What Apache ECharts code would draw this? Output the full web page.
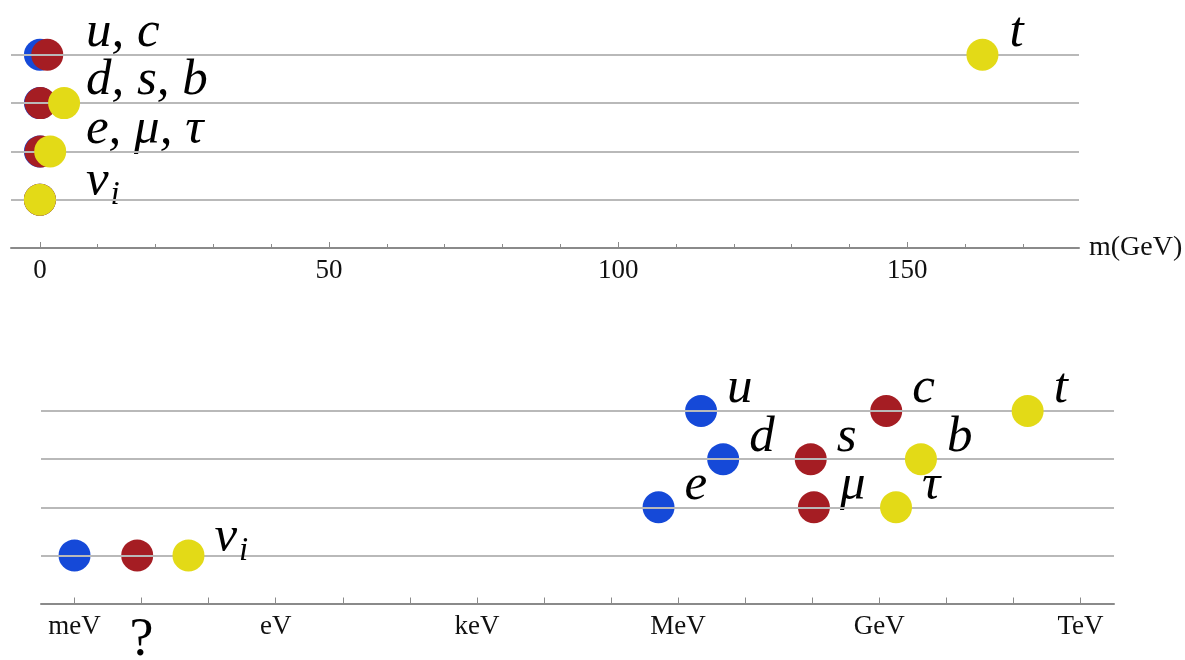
<!DOCTYPE html>
<html><head><meta charset="utf-8">
<script src="https://cdn.jsdelivr.net/npm/echarts@6/dist/echarts.min.js"></script>
<style>html,body{margin:0;padding:0;background:#fff}#c{width:1185px;height:660px}</style>
</head><body><div id="c"></div>
<script>
// rows: 4 = up-type quarks, 3 = down-type quarks, 2 = charged leptons, 1 = neutrinos
const rows = [4, 3, 2, 1];
const rowLabelsTop = ['u, c', 'd, s, b', 'e, μ, τ', 'nu'];
// masses in GeV, per generation, in row order
const gen1Mass = [0.0022, 0.0047, 0.000511, 1e-12];
const gen2Mass = [1.27, 0.095, 0.106, 8.6e-12];
const gen3Mass = [163, 4.18, 1.777, 5e-11];
const gen1Names = ['u', 'd', 'e', ''];
const gen2Names = ['c', 's', 'μ', ''];
const gen3Names = ['t', 'b', 'τ', 'nu'];
const genColors = ['#1549d8', '#a51d23', '#e3da17'];
// top (linear GeV) axis ticks
const linearMajorTicks = [0, 50, 100, 150];
const linearMinorTicks = [10, 20, 30, 40, 60, 70, 80, 90, 110, 120, 130, 140, 160, 170];
// bottom (log eV) axis ticks and labels
const logTicksEV = [1e-3, 1e-2, 1e-1, 1, 1e1, 1e2, 1e3, 1e4, 1e5, 1e6, 1e7, 1e8, 1e9, 1e10, 1e11, 1e12];
const logLabelValues = [1e-3, 1e-2, 1, 1e3, 1e6, 1e9, 1e12];
const logLabelTexts = ['meV', '?', 'eV', 'keV', 'MeV', 'GeV', 'TeV'];

const SERIF = '"Liberation Serif", "Times New Roman", serif';
const mathRich = {
  m: { fontFamily: SERIF, fontStyle: 'italic', fontSize: 51, color: '#000', lineHeight: 51 },
  s: { fontFamily: SERIF, fontStyle: 'italic', fontSize: 33, color: '#000', lineHeight: 33, padding: [28, 0, 0, 2] }
};
function mathText(t) {
  if (t === 'nu') return '{m|ν}{s|i}';
  return '{m|' + t + '}';
}

const masses = [gen1Mass, gen2Mass, gen3Mass];
const names = [gen1Names, gen2Names, gen3Names];

const series = [];
// top chart
masses.forEach((arr, g) => {
  series.push({
    type: 'scatter', xAxisIndex: 0, yAxisIndex: 0,
    symbol: 'circle', symbolSize: 32,
    itemStyle: { color: genColors[g], opacity: 1 },
    data: arr.map((m, i) => {
      const item = { value: [m, rows[i]] };
      const off = rowLabelsTop[i] === 'nu' ? -18 : -22;
      if (g === 0) item.label = { show: true, formatter: mathText(rowLabelsTop[i]), position: 'right', distance: 30, offset: [0, off], rich: mathRich };
      if (g === 2 && i === 0) item.label = { show: true, formatter: mathText(names[g][i]), position: 'right', distance: 11, offset: [0, -22], rich: mathRich };
      return item;
    }),
    markLine: g === 0 ? {
      silent: true, symbol: 'none', label: { show: false },
      lineStyle: { color: '#b9b9b9', width: 2, type: 'solid' },
      data: rows.map(r => ({ yAxis: r }))
    } : undefined,
    z: 3 + g
  });
});
// bottom chart
masses.forEach((arr, g) => {
  series.push({
    type: 'scatter', xAxisIndex: 2, yAxisIndex: 1,
    symbol: 'circle', symbolSize: 32,
    itemStyle: { color: genColors[g], opacity: 1 },
    label: { show: true, position: 'right', distance: 10, rich: mathRich,
      formatter: p => names[g][p.dataIndex] ? mathText(names[g][p.dataIndex]) : '' },
    data: arr.map((m, i) => ({ value: [m * 1e9, rows[i]], label: { offset: [0, names[g][i] === 'nu' ? -18 : -22] } })),
    markLine: g === 0 ? {
      silent: true, symbol: 'none', label: { show: false },
      lineStyle: { color: '#b9b9b9', width: 2, type: 'solid' },
      data: rows.map(r => ({ yAxis: r }))
    } : undefined,
    z: 3 + g
  });
});

const axisGrey = '#8a8a8a';
const labelStyle = { fontFamily: SERIF, fontSize: 27, color: '#111' };

const option = {
  animation: false,
  backgroundColor: '#fff',
  grid: [
    { left: 11, right: 106, top: 30.6, height: 217.4, outerBoundsMode: 'none', containLabel: false },
    { left: 41, right: 71, top: 387, height: 216.5, outerBoundsMode: 'none', containLabel: false }
  ],
  xAxis: [
    { type: 'value', gridIndex: 0, position: 'bottom', min: -5, max: 179.7,
      name: 'm(GeV)', nameLocation: 'end', nameGap: 10, nameTextStyle: { fontFamily: SERIF, fontSize: 28, color: '#111', verticalAlign: 'middle' },
      axisLine: { show: true, onZero: false, lineStyle: { color: axisGrey, width: 2 } },
      axisTick: { show: true, inside: true, length: 6, customValues: linearMajorTicks, lineStyle: { color: axisGrey, width: 1 } },
      axisLabel: Object.assign({ customValues: linearMajorTicks, margin: 9 }, labelStyle),
      splitLine: { show: false } },
    { type: 'value', gridIndex: 0, position: 'bottom', min: -5, max: 179.7,
      axisLine: { show: false },
      axisTick: { show: true, inside: true, length: 4, customValues: linearMinorTicks, lineStyle: { color: axisGrey, width: 1 } },
      axisLabel: { show: false }, splitLine: { show: false } },
    { type: 'log', logBase: 10, gridIndex: 1, position: 'bottom', min: Math.pow(10, -3.5), max: Math.pow(10, 12.5),
      axisLine: { show: true, onZero: false, lineStyle: { color: axisGrey, width: 2 } },
      axisTick: { show: true, inside: true, length: 6, customValues: logTicksEV, lineStyle: { color: axisGrey, width: 1 } },
      axisLabel: Object.assign({ customValues: logLabelValues, margin: 10,
        formatter: v => {
          const i = logLabelValues.findIndex(x => Math.abs(Math.log10(x) - Math.log10(v)) < 1e-6);
          const t = i >= 0 ? logLabelTexts[i] : '';
          return t === '?' ? '{q|?}' : t;
        },
        rich: { q: { fontFamily: SERIF, fontSize: 54, lineHeight: 54, color: '#000', padding: [0, 0, 0, 0] } } }, labelStyle),
      splitLine: { show: false }, minorTick: { show: false } }
  ],
  yAxis: [
    { type: 'value', gridIndex: 0, min: 0, max: 4.5, show: false },
    { type: 'value', gridIndex: 1, min: 0, max: 4.5, show: false }
  ],
  series: series
};
const chart = echarts.init(document.getElementById('c'), null, { renderer: 'canvas' });
chart.setOption(option);
</script>
</body></html>
